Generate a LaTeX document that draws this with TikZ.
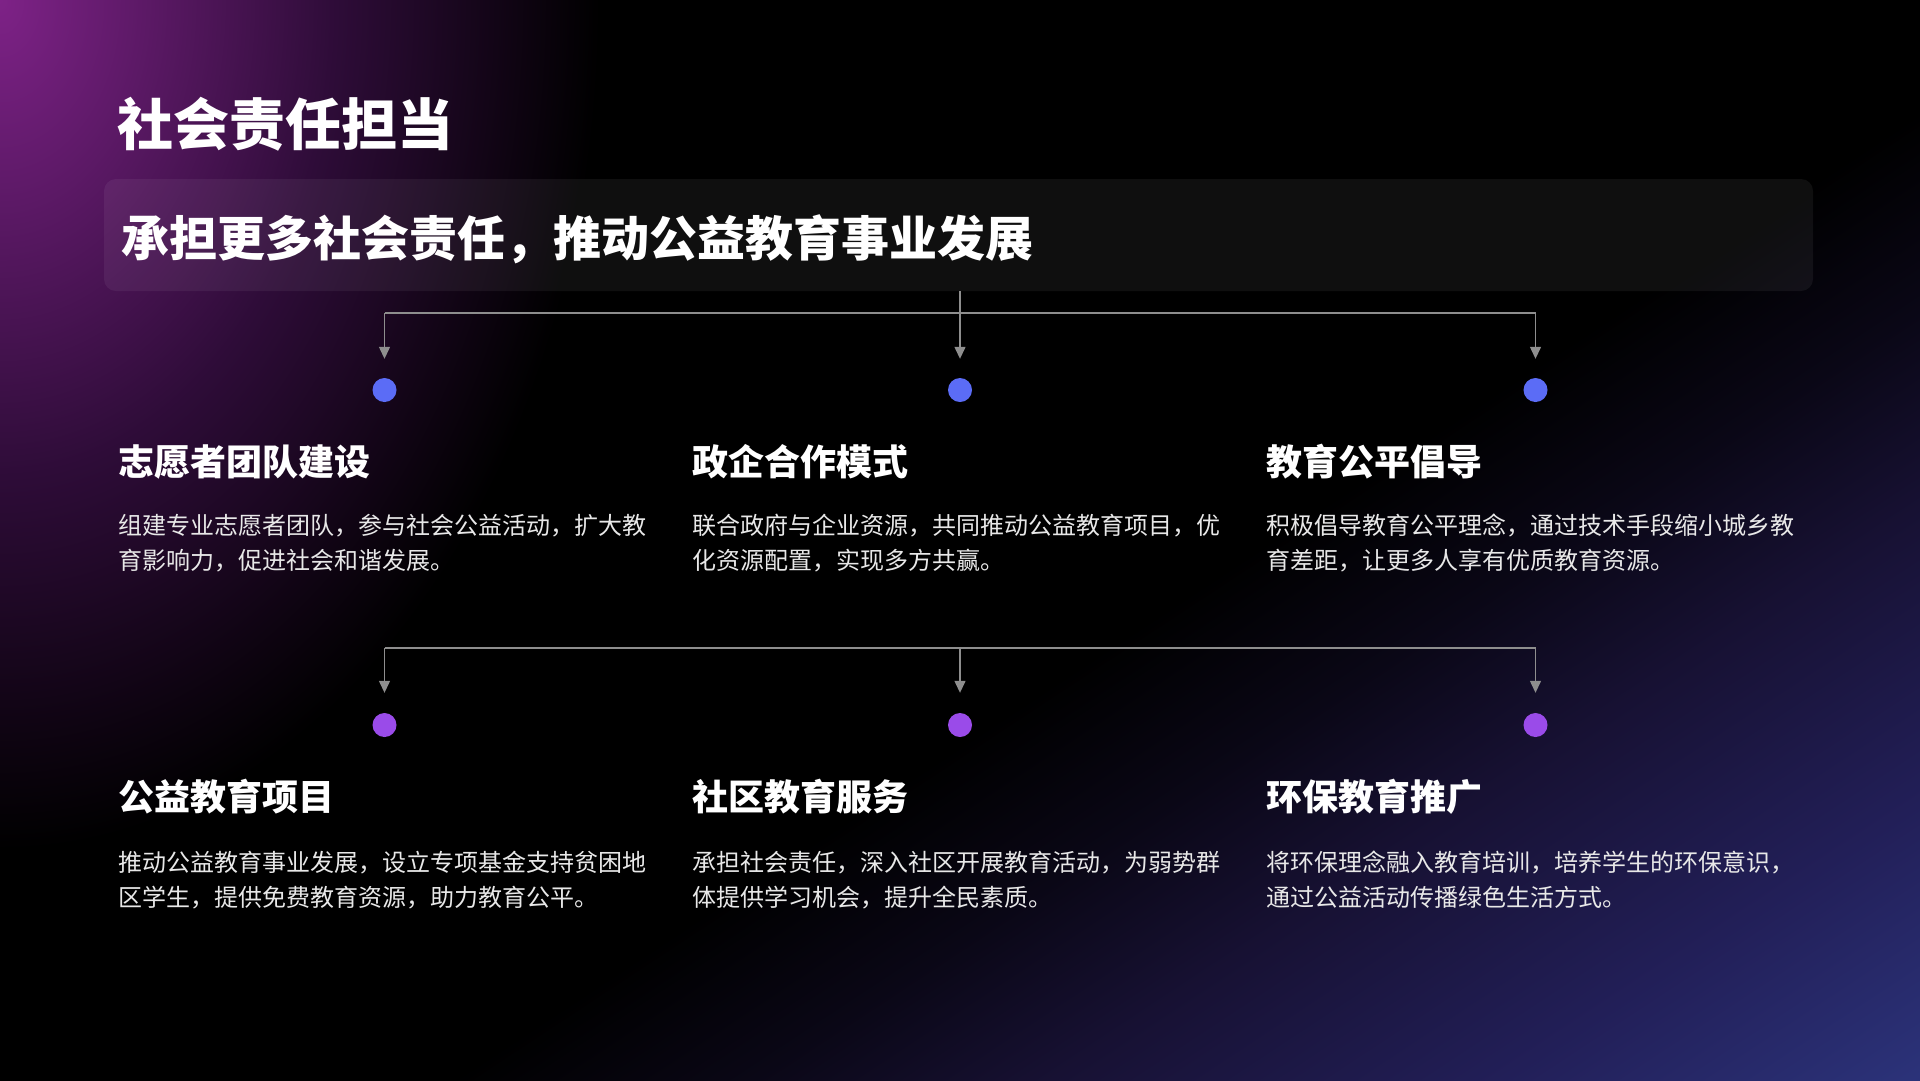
\documentclass[tikz,border=0pt]{standalone}
\usepackage{fontspec}
\setmainfont{Noto Sans CJK SC}
\usetikzlibrary{arrows.meta}
\definecolor{glowP}{HTML}{7E2287}
\definecolor{glowPb}{HTML}{5C1966}
\definecolor{glowPc}{HTML}{2E0C38}
\definecolor{glowN}{HTML}{2C347C}
\definecolor{glowNb}{HTML}{221F58}
\definecolor{glowNc}{HTML}{171133}
\definecolor{glowNd}{HTML}{0A0716}
\definecolor{connc}{HTML}{8E8E8E}
\definecolor{dotblue}{HTML}{5B6CF6}
\definecolor{dotpurple}{HTML}{9A4BE9}
\definecolor{desccol}{HTML}{E8E8E8}
\pgfdeclareradialshading{tlglow}{\pgfpoint{0bp}{0bp}}{color(0bp)=(glowP); color(6bp)=(glowPb); color(14bp)=(glowPc); color(25bp)=(black); color(50bp)=(black)}
\pgfdeclarehorizontalshading{brglow}{100bp}{color(0bp)=(black); color(25bp)=(black); color(35bp)=(glowNd); color(45bp)=(glowNc); color(60bp)=(glowNb); color(75bp)=(glowN); color(100bp)=(glowN)}
\tikzset{
  conn/.style={draw=connc, line width=1.3pt},
  arr/.style={conn, -{Triangle[length=12pt,width=11pt]}},
  dotA/.style={circle, fill=dotblue, minimum size=24pt, inner sep=0pt},
  dotB/.style={circle, fill=dotpurple, minimum size=24pt, inner sep=0pt},
  titletxt/.style={anchor=base west, inner sep=0pt, text=white, font=\fontsize{56pt}{60pt}\selectfont\bfseries},
  subtxt/.style={anchor=base west, inner sep=0pt, text=white, font=\fontsize{48pt}{52pt}\selectfont\bfseries},
  headtxt/.style={anchor=base west, inner sep=0pt, text=white, font=\fontsize{36pt}{40pt}\selectfont\bfseries},
  desctxt/.style={anchor=base west, inner sep=0pt, text=desccol, font=\fontsize{24pt}{30pt}\selectfont},
  panel/.style={rectangle, rounded corners=12pt, fill=white, fill opacity=0.06, inner sep=0pt, minimum width=1709pt, minimum height=112pt}
}
\begin{document}
\begin{tikzpicture}[x=1pt,y=-1pt]
\useasboundingbox (0,0) rectangle (1920,1080);
% background
\fill[black] (-20,-20) rectangle (1940,1100);
\begin{scope}
  \clip (-5,-5) rectangle (1925,1085);
  \shade[shading=tlglow] (0,0) ellipse [x radius=600, y radius=850];
  \begin{scope}[transform canvas={rotate=-56.6}]
    \shade[shading=brglow] (1150,-1660) rectangle (1975,660);
  \end{scope}
\end{scope}

% title and banner
\node[titletxt] (title) at (117,145) {社会责任担当};
\node[panel] (box) at (958.5,235) {};
\node[subtxt] (sub) at (121,256) {承担更多社会责任，推动公益教育事业发展};

% dots
\node[dotA] (p1) at (384.5,390) {};
\node[dotA] (p2) at (960,390) {};
\node[dotA] (p3) at (1535.5,390) {};
\node[dotB] (p4) at (384.5,725) {};
\node[dotB] (p5) at (960,725) {};
\node[dotB] (p6) at (1535.5,725) {};

% connectors row 1
\coordinate (j1) at (384.5,313);
\coordinate (j3) at (1535.5,313);
\draw[conn] (j1) -- (j3);
\draw[arr, shorten >=19pt] (box.south -| p2) -- (p2);
\draw[arr, shorten >=19pt] (j1) -- (p1);
\draw[arr, shorten >=19pt] (j3) -- (p3);

% connectors row 2
\coordinate (k1) at (384.5,648);
\coordinate (k2) at (960,648);
\coordinate (k3) at (1535.5,648);
\draw[conn] (k1) -- (k3);
\draw[arr, shorten >=20pt] (k1) -- (p4);
\draw[arr, shorten >=20pt] (k2) -- (p5);
\draw[arr, shorten >=20pt] (k3) -- (p6);

% row 1 texts
\node[headtxt] (h1) at (118,475) {志愿者团队建设};
\node[desctxt] (d1a) at (118,534) {组建专业志愿者团队，参与社会公益活动，扩大教};
\node[desctxt] (d1b) at (118,569) {育影响力，促进社会和谐发展。};

\node[headtxt] (h2) at (692,475) {政企合作模式};
\node[desctxt] (d2a) at (692,534) {联合政府与企业资源，共同推动公益教育项目，优};
\node[desctxt] (d2b) at (692,569) {化资源配置，实现多方共赢。};

\node[headtxt] (h3) at (1266,475) {教育公平倡导};
\node[desctxt] (d3a) at (1266,534) {积极倡导教育公平理念，通过技术手段缩小城乡教};
\node[desctxt] (d3b) at (1266,569) {育差距，让更多人享有优质教育资源。};

% row 2 texts
\node[headtxt] (h4) at (118,810) {公益教育项目};
\node[desctxt] (d4a) at (118,871) {推动公益教育事业发展，设立专项基金支持贫困地};
\node[desctxt] (d4b) at (118,906) {区学生，提供免费教育资源，助力教育公平。};

\node[headtxt] (h5) at (692,810) {社区教育服务};
\node[desctxt] (d5a) at (692,871) {承担社会责任，深入社区开展教育活动，为弱势群};
\node[desctxt] (d5b) at (692,906) {体提供学习机会，提升全民素质。};

\node[headtxt] (h6) at (1266,810) {环保教育推广};
\node[desctxt] (d6a) at (1266,871) {将环保理念融入教育培训，培养学生的环保意识，};
\node[desctxt] (d6b) at (1266,906) {通过公益活动传播绿色生活方式。};
\end{tikzpicture}
\end{document}
